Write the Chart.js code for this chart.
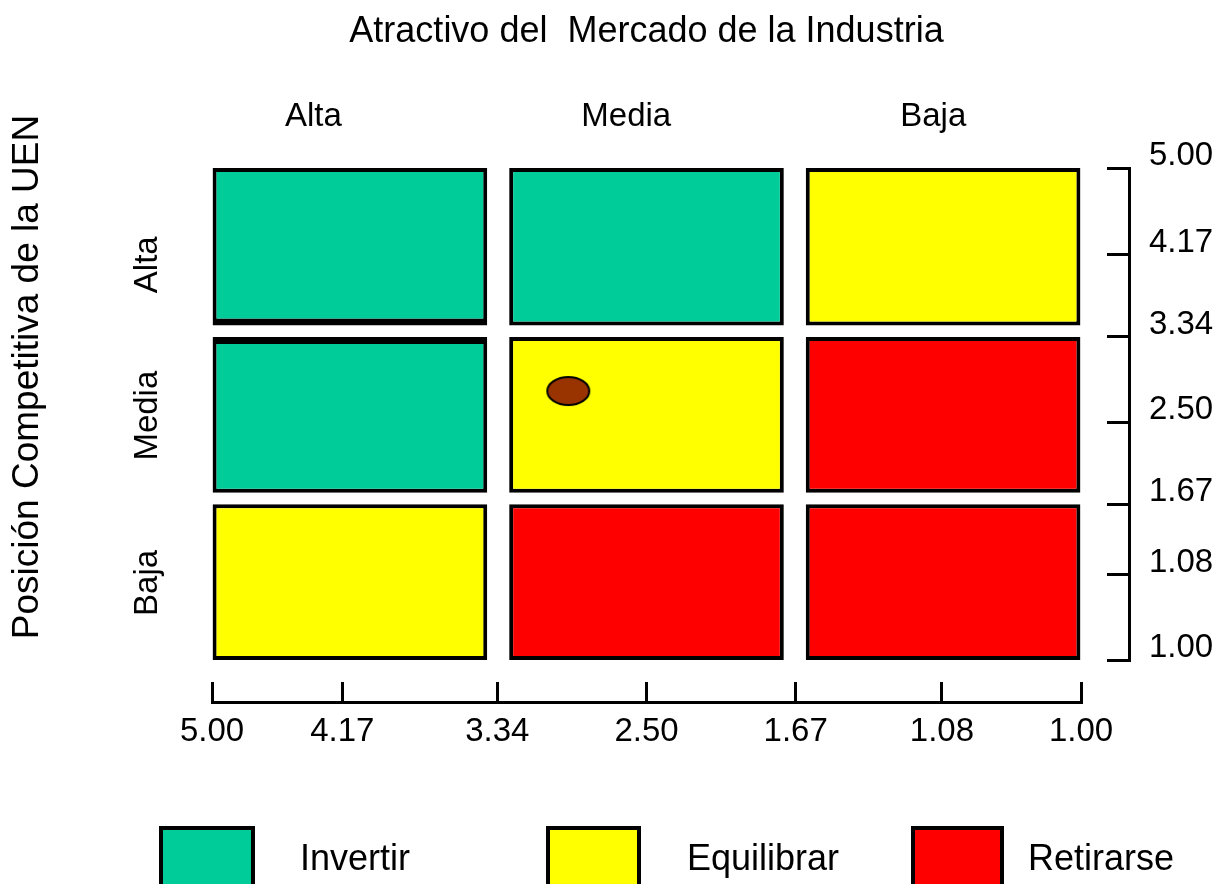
<!DOCTYPE html>
<html lang="es">
<head>
<meta charset="utf-8">
<title>Matriz Atractivo / Posición Competitiva</title>
<script src="https://cdn.jsdelivr.net/npm/chart.js@4.4.1/dist/chart.umd.min.js"></script>
<style>
  body { margin: 0; background: #fff; }
  #wrap { position: relative; width: 1228px; height: 884px; overflow: hidden; }
  #legend { position: absolute; left: 0; top: 0; width: 100%; height: 100%; pointer-events: none;
            font-family: "Liberation Sans", Arial, sans-serif; font-size: 36px; color: #000; }
  .swatch { position: absolute; top: 826px; height: 80px; border: 4px solid #000; box-sizing: border-box; }
  .lbl { position: absolute; top: 840px; line-height: 36px; white-space: nowrap; }
</style>
</head>
<body>
<div id="wrap">
  <canvas id="matrixChart"></canvas>
  <div id="legend"></div>
</div>
<script>
Chart.defaults.font.family = '"Liberation Sans", Arial, sans-serif';
Chart.defaults.color = '#000';

// ---- data ----
const strategies = ['Invertir', 'Equilibrar', 'Retirarse'];
const strategyColors = ['#00cc99', '#ffff00', '#ff0000'];

const marketLevels = ['Alta', 'Media', 'Baja'];     // columnas (atractivo)
const positionLevels = ['Alta', 'Media', 'Baja'];   // filas, de arriba a abajo

const matrix = [
  ['Invertir',   'Invertir',   'Equilibrar'],
  ['Invertir',   'Equilibrar', 'Retirarse'],
  ['Equilibrar', 'Retirarse',  'Retirarse']
];

// extent of every row on the 0-3 grid scale
const rowLow  = [2.04, 1.02, 0.00];
const rowHigh = [3.00, 1.97, 0.95];

// where the category names sit on the grid scale
const colLabelAt = [0.35, 1.43, 2.49];
const rowLabelAt = [2.41, 1.49, 0.47];

const xTickAt = [0, 0.45, 0.985, 1.50, 2.015, 2.52, 3];
const xTickLabels = ['5.00', '4.17', '3.34', '2.50', '1.67', '1.08', '1.00'];
const yTickAt = [0, 0.52, 0.95, 1.45, 1.97, 2.47, 3];
const yTickLabels = ['1.00', '1.08', '1.67', '2.50', '3.34', '4.17', '5.00'];

// the business unit
const uenX = [1.23];
const uenY = [1.64];

// ---- styling helpers ----
const black = '#000';
const tickFont = { size: 33 };
const sideTitleSize = 37;
const sideTitlePad = 6;

function cellBorder(ctx) {
  const c = ctx.raw;
  const w = { top: 4, right: 4, bottom: 4, left: 4 };
  // thick double rule between Alta and Media in the first column
  if (c && c.x === 0 && c.row === 0) w.bottom = 7;
  if (c && c.x === 0 && c.row === 1) w.top = 7;
  return w;
}

const uenMark = document.createElement('canvas');
uenMark.width = 46;
uenMark.height = 32;
const m = uenMark.getContext('2d');
m.beginPath();
m.ellipse(23, 16, 21, 14, 0, 0, Math.PI * 2);
m.fillStyle = '#993300';
m.fill();
m.lineWidth = 2;
m.strokeStyle = black;
m.stroke();

const cellSets = strategies.map(function(s, k) {
  const cells = [];
  matrix.forEach(function(row, r) {
    row.forEach(function(name, c) {
      if (name === s) cells.push({ x: c, y: [rowLow[r], rowHigh[r]], row: r });
    });
  });
  return {
    type: 'bar',
    label: s,
    xAxisID: 'xc',
    yAxisID: 'y',
    grouped: false,
    order: 1,
    data: cells,
    backgroundColor: strategyColors[k],
    borderColor: black,
    borderWidth: cellBorder,
    borderSkipped: false,
    inflateAmount: 0,
    barPercentage: 0.926,
    categoryPercentage: 1
  };
});

const uenSet = {
  type: 'scatter',
  label: 'UEN',
  xAxisID: 'x',
  yAxisID: 'y',
  order: 0,
  data: uenX.map(function(x, i) { return { x: x, y: uenY[i] }; }),
  pointStyle: uenMark,
  pointRadius: 16
};

const ctx = document.getElementById('matrixChart').getContext('2d');
const matrixChart = new Chart(ctx, {
  type: 'bar',
  data: { datasets: cellSets.concat([uenSet]) },
  options: {
    responsive: true,
    maintainAspectRatio: false,
    animation: false,
    events: [],
    layout: { padding: { top: 0, right: 0, bottom: 130, left: 0 } },
    plugins: {
      legend: { display: false },
      tooltip: { enabled: false },
      subtitle: {
        display: true,
        text: 'Posición Competitiva de la UEN',
        position: 'left',
        fullSize: true,
        color: black,
        font: { size: sideTitleSize, weight: 'normal' },
        padding: { top: sideTitlePad, bottom: 0 }
      }
    },
    scales: {
      xc: {
        type: 'linear', display: false, min: -0.465, max: 2.465,
        offset: false, grid: { offset: false },
        afterBuildTicks: function(s) { s.ticks = marketLevels.map(function(_, i) { return { value: i }; }); }
      },
      x: {
        type: 'linear', position: 'bottom', weight: 1, min: 0, max: 3, offset: false,
        grid: { display: true, offset: false, drawOnChartArea: false, drawTicks: true,
                tickLength: -20, tickWidth: 3, tickColor: black, lineWidth: 3, color: black },
        border: { display: true, color: black, width: 3 },
        ticks: { autoSkip: false, maxRotation: 0, padding: 30, font: tickFont,
                 callback: function(v, i) { return xTickLabels[i]; } },
        afterBuildTicks: function(s) { s.ticks = xTickAt.map(function(v) { return { value: v }; }); },
        afterFit: function(s) { s.height = 52; }
      },
      xs: {
        type: 'linear', position: 'bottom', weight: 0, offset: false,
        grid: { display: false, offset: false }, border: { display: false }, ticks: { display: false },
        afterFit: function(s) { s.height = 42; }
      },
      xt: {
        type: 'linear', position: 'top', min: 0, max: 3, offset: false,
        grid: { display: false, offset: false }, border: { display: false },
        ticks: { autoSkip: false, maxRotation: 0, padding: 23, font: tickFont,
                 callback: function(v, i) { return marketLevels[i]; } },
        afterBuildTicks: function(s) { s.ticks = colLabelAt.map(function(v) { return { value: v }; }); },
        title: { display: true, text: 'Atractivo del  Mercado de la Industria', color: black,
                 font: { size: 36 }, padding: { top: 10, bottom: 0 } },
        afterFit: function(s) { s.height = 168; }
      },
      y: {
        type: 'linear', position: 'left', min: 0, max: 3,
        grid: { display: false }, border: { display: false },
        ticks: { autoSkip: false, minRotation: 90, maxRotation: 90, crossAlign: 'center', padding: 11, font: tickFont,
                 callback: function(v) { return positionLevels[rowLabelAt.indexOf(v)]; } },
        afterBuildTicks: function(s) {
          s.ticks = rowLabelAt.slice().sort(function(a, b) { return a - b; }).map(function(v) { return { value: v }; });
        },
        afterFit: function(s) { s.width = 212 - (sideTitleSize * 1.2 + sideTitlePad); }
      },
      ys: {
        type: 'linear', position: 'right', weight: 0,
        grid: { display: false }, border: { display: false }, ticks: { display: false },
        afterFit: function(s) { s.width = 48; }
      },
      yr: {
        type: 'linear', position: 'right', weight: 1, min: 0, max: 3,
        grid: { display: true, drawOnChartArea: false, drawTicks: true,
                tickLength: -22, tickWidth: 3, tickColor: black, lineWidth: 3, color: black },
        border: { display: true, color: black, width: 3 },
        ticks: { autoSkip: false, padding: 42, labelOffset: -12, font: tickFont,
                 callback: function(v, i) { return yTickLabels[i]; } },
        afterBuildTicks: function(s) { s.ticks = yTickAt.map(function(v) { return { value: v }; }); },
        afterFit: function(s) { s.width = 99; }
      }
    }
  }
});

// legend below the matrix, built from the strategies
const legendSlots = [
  { box: 159, w: 96, text: 300 },
  { box: 546, w: 95, text: 687 },
  { box: 911, w: 93, text: 1028 }
];
const legendEl = document.getElementById('legend');
strategies.forEach(function(s, k) {
  const sw = document.createElement('div');
  sw.className = 'swatch';
  sw.style.left = legendSlots[k].box + 'px';
  sw.style.width = legendSlots[k].w + 'px';
  sw.style.background = strategyColors[k];
  legendEl.appendChild(sw);
  const t = document.createElement('div');
  t.className = 'lbl';
  t.style.left = legendSlots[k].text + 'px';
  t.textContent = s;
  legendEl.appendChild(t);
});
</script>
</body>
</html>
